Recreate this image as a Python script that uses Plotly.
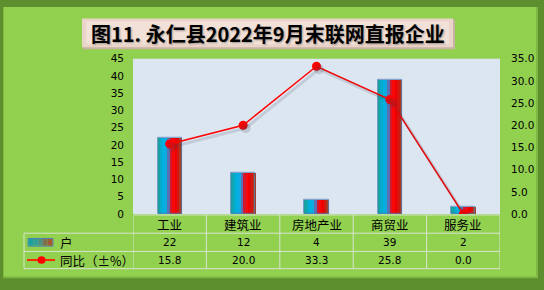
import plotly.graph_objects as go

categories = ["工业", "建筑业", "房地产业", "商贸业", "服务业"]
households = [22, 12, 4, 39, 2]
yoy_pct = [15.8, 20.0, 33.3, 25.8, 0.0]
bar_name = "户"
line_name = "同比（±%）"
title_text = "图11. 永仁县2022年9月末联网直报企业"

W, H = 544, 290
def px(x): return x / W
def py(y): return 1 - y / H

GREEN = "#92d050"
NUMFONT = "DejaVu Sans, Noto Sans CJK SC"
CJK = "Noto Sans CJK SC"

fig = go.Figure()

# gradient bars from strips
strip_colors = ["#17a2a0", "#06aacb", "#00b0e0", "#10a8e0", "#5a70b0",
                "#d01830", "#f80808", "#f00000", "#d01810", "#a83c24"]
bw = 0.33
n = len(strip_colors)
for i, c in enumerate(strip_colors):
    fig.add_trace(go.Bar(x=categories, y=households, width=bw / n + 0.006,
                         offset=-bw / 2 + i * bw / n, marker=dict(color=c, line=dict(width=0)),
                         showlegend=False, hoverinfo="skip"))
fig.add_trace(go.Bar(x=categories, y=households, width=bw, offset=-bw / 2,
                     marker=dict(color="rgba(0,0,0,0)", line=dict(color="#4f7fb8", width=0.8)),
                     showlegend=False, name=bar_name))

# line shadow (shifted axes)
fig.add_trace(go.Scatter(x=categories, y=yoy_pct, xaxis="x2", yaxis="y3", mode="lines+markers",
                         line=dict(color="rgba(60,60,80,0.16)", width=3),
                         marker=dict(size=10, color="rgba(60,60,80,0.18)"),
                         showlegend=False, hoverinfo="skip"))
fig.add_trace(go.Scatter(x=categories, y=yoy_pct, yaxis="y2", mode="lines+markers",
                         line=dict(color="#ff0000", width=1.5),
                         marker=dict(size=9, color="#ff0000"),
                         showlegend=False, name=line_name))

x0, x1 = 133, 500
ytop, ybot = 55, 217
dom_x = [px(x0), px(x1)]
dom_y = [py(ybot), py(ytop)]

shapes = []
# outer frame
shapes.append(dict(type="rect", xref="paper", yref="paper", x0=px(3), x1=px(538), y0=py(284), y1=py(1),
                   fillcolor="#7fb842", line=dict(width=0), layer="below"))
shapes.append(dict(type="rect", xref="paper", yref="paper", x0=px(4), x1=px(536), y0=py(282), y1=py(1),
                   fillcolor=GREEN, line=dict(width=0), layer="below"))
# title box
shapes.append(dict(type="rect", xref="paper", yref="paper", x0=px(83), x1=px(455), y0=py(45), y1=py(14),
                   fillcolor="#c9b2a4", line=dict(width=0), layer="below"))
shapes.append(dict(type="rect", xref="paper", yref="paper", x0=px(82), x1=px(453), y0=py(43), y1=py(13),
                   fillcolor="#ead3c8", line=dict(width=0), layer="below"))
shapes.append(dict(type="rect", xref="paper", yref="paper", x0=px(86), x1=px(449), y0=py(40), y1=py(16),
                   fillcolor="#f1e1d8", line=dict(width=0), layer="below"))
# plot bg
shapes.append(dict(type="rect", xref="x domain", yref="y domain", x0=0, x1=1, y0=0, y1=1,
                   fillcolor="#dce6f1", line=dict(width=0), layer="below"))

LC = "#d9e4d0"
r0, r1, r2, r3 = 218, 237, 256, 274
for yy in (r1, r2, r3):
    shapes.append(dict(type="line", xref="paper", yref="paper", x0=px(24), x1=px(500), y0=py(yy), y1=py(yy),
                       line=dict(color=LC, width=1)))
shapes.append(dict(type="line", xref="paper", yref="paper", x0=px(134), x1=px(500), y0=py(r0), y1=py(r0),
                   line=dict(color=LC, width=1)))
shapes.append(dict(type="line", xref="paper", yref="paper", x0=px(24), x1=px(24), y0=py(r1), y1=py(r3),
                   line=dict(color=LC, width=1)))
for k in range(len(categories) + 1):
    shapes.append(dict(type="line", xref="x", yref="paper", x0=k - 0.5, x1=k - 0.5, y0=py(r0), y1=py(r3),
                       line=dict(color=LC, width=1)))
# legend icons
shapes.append(dict(type="rect", xref="paper", yref="paper", x0=px(28), x1=px(53), y0=py(250.5), y1=py(242.5),
                   fillcolor="rgba(0,0,0,0)", line=dict(color="#4f7fb8", width=1)))
icon_cols = ["#1aa0a0", "#30a098", "#509080", "#807050", "#a05a34"]
for i, c in enumerate(icon_cols):
    shapes.append(dict(type="rect", xref="paper", yref="paper", x0=px(28.5 + i * 24 / 5), x1=px(28.5 + (i + 1) * 24 / 5),
                       y0=py(250), y1=py(243), fillcolor=c, line=dict(width=0)))
shapes.append(dict(type="line", xref="paper", yref="paper", x0=px(27), x1=px(55), y0=py(265), y1=py(265),
                   line=dict(color="#ff2a00", width=2)))
shapes.append(dict(type="circle", xref="paper", yref="paper", x0=px(37.5), x1=px(45.5), y0=py(269), y1=py(261),
                   fillcolor="#ff0000", line=dict(width=0)))

ann = []
ann.append(dict(text="<b>" + title_text + "</b>", xref="paper", yref="paper", x=px(268), y=py(28.5),
                showarrow=False, xanchor="center", yanchor="middle",
                font=dict(family=CJK, size=20, color="#000000", shadow="1px 1px 2px rgba(0,0,0,0.35)")))
for c in categories:
    ann.append(dict(text=c, xref="x", yref="paper", x=c, y=py(227.5), showarrow=False,
                    xanchor="center", yanchor="middle", font=dict(family=CJK, size=12.5, color="#000")))
for c, v in zip(categories, households):
    ann.append(dict(text=str(v), xref="x", yref="paper", x=c, y=py(246.5), showarrow=False,
                    xanchor="center", yanchor="middle", font=dict(family=NUMFONT, size=10.5, color="#000")))
for c, v in zip(categories, yoy_pct):
    ann.append(dict(text=f"{v:.1f}", xref="x", yref="paper", x=c, y=py(265), showarrow=False,
                    xanchor="center", yanchor="middle", font=dict(family=NUMFONT, size=10.5, color="#000")))
ann.append(dict(text=bar_name, xref="paper", yref="paper", x=px(58), y=py(246.5), showarrow=False,
                xanchor="left", yanchor="middle", font=dict(family=CJK, size=12.5, color="#000")))
ann.append(dict(text=line_name, xref="paper", yref="paper", x=px(58), y=py(265), showarrow=False,
                xanchor="left", yanchor="middle", font=dict(family=CJK, size=12.5, color="#000")))

shift_y = 3 / (ybot - ytop) * 35
shift_x = 2.5 / ((x1 - x0) / 5)

fig.update_layout(
    width=W, height=H, margin=dict(l=0, r=0, t=0, b=0),
    paper_bgcolor="#5d8f2e", plot_bgcolor="rgba(0,0,0,0)",
    barmode="overlay", bargap=0,
    shapes=shapes, annotations=ann,
    xaxis=dict(domain=dom_x, range=[-0.5, 4.5], showticklabels=False, showgrid=False,
               zeroline=False, showline=False, ticks=""),
    xaxis2=dict(domain=dom_x, overlaying="x", range=[-0.5 - shift_x, 4.5 - shift_x], visible=False),
    yaxis=dict(domain=dom_y, range=[0, 45], dtick=5, showgrid=False, zeroline=False, showline=False,
               ticks="", ticklabelstandoff=8, tickfont=dict(family=NUMFONT, size=10.5, color="#000")),
    yaxis2=dict(overlaying="y", side="right", range=[0, 35], dtick=5, tickformat=".1f", showgrid=False,
                zeroline=False, showline=False, ticks="", ticklabelstandoff=10,
                tickfont=dict(family=NUMFONT, size=10.5, color="#000")),
    yaxis3=dict(overlaying="y", range=[shift_y, 35 + shift_y], visible=False),
)

fig.write_html("out.html")
